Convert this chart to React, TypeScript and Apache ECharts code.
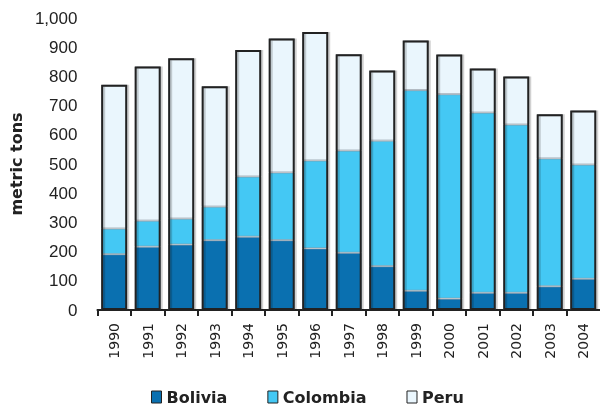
import React, { useEffect, useRef } from "react";
import * as echarts from "echarts";

const years = ["1990","1991","1992","1993","1994","1995","1996","1997","1998","1999","2000","2001","2002","2003","2004"];
const bolivia = [191, 217, 224, 239, 251, 239, 211, 196, 150, 66, 39, 59, 59, 81, 107];
const colombia = [88, 89, 89, 115, 206, 232, 301, 350, 430, 687, 700, 617, 576, 438, 391];
const peru = [492, 528, 549, 412, 433, 459, 440, 330, 240, 170, 136, 151, 165, 151, 185];
const yTicks = { min: 0, max: 1000, interval: 100 };

export default function App() {
  const ref = useRef<HTMLDivElement>(null);
  useEffect(() => {
    if (!ref.current) return;
    const chart = echarts.init(ref.current, null, { renderer: "svg" });
    const totals = years.map((_, i) => bolivia[i] + colombia[i] + peru[i]);
    const segBorder = { borderColor: "rgba(140,150,160,0.7)", borderWidth: 1 };
    chart.setOption({
      animation: false,
      grid: { left: 87, right: 0, top: 18, bottom: 98 },
      legend: {
        data: ["Bolivia", "Colombia", "Peru"],
        left: 151,
        top: 389,
        padding: 0,
        itemWidth: 10,
        itemHeight: 12,
        itemGap: 40,
        icon: "rect",
        itemStyle: { borderColor: "#222", borderWidth: 1 },
        textStyle: { fontFamily: "DejaVu Sans", fontWeight: "bold", fontSize: 16, color: "#222" },
      },
      xAxis: {
        type: "category",
        data: years,
        boundaryGap: true,
        axisLine: { lineStyle: { color: "#222", width: 2 } },
        axisTick: { show: true, length: 6, lineStyle: { color: "#222", width: 2 } },
        axisLabel: { rotate: 90, margin: 13, fontFamily: "DejaVu Sans", fontSize: 14, color: "#222" },
      },
      yAxis: {
        type: "value",
        min: yTicks.min,
        max: yTicks.max,
        interval: yTicks.interval,
        name: "metric tons",
        nameLocation: "middle",
        nameGap: 60,
        nameTextStyle: { fontFamily: "DejaVu Sans", fontWeight: "bold", fontSize: 16, color: "#222" },
        axisLine: { show: false },
        axisTick: { show: false },
        axisLabel: {
          margin: 20,
          fontFamily: "Liberation Sans",
          fontSize: 17,
          color: "#222",
          formatter: (v: number) => v.toLocaleString("en-US"),
        },
        splitLine: {
          lineStyle: { color: "#2a2a2a", width: 2, shadowColor: "rgba(0,0,0,0.25)", shadowOffsetY: 2, shadowBlur: 0 },
        },
      },
      series: [
        { name: "Bolivia", type: "bar", stack: "t", data: bolivia, barWidth: 26, barGap: "-100%", itemStyle: { color: "#0a70b0", ...segBorder } },
        { name: "Colombia", type: "bar", stack: "t", data: colombia, barWidth: 26, barGap: "-100%", itemStyle: { color: "#44c8f4", ...segBorder } },
        { name: "Peru", type: "bar", stack: "t", data: peru, barWidth: 26, barGap: "-100%", itemStyle: { color: "#eaf6fd", ...segBorder } },
        {
          name: "outline",
          type: "bar",
          data: totals,
          barWidth: 26,
          barGap: "-100%",
          silent: true,
          z: 3,
          itemStyle: {
            color: "rgba(0,0,0,0)",
            borderColor: "#222",
            borderWidth: 2,
            shadowColor: "rgba(0,0,0,0.18)",
            shadowOffsetX: 2,
            shadowBlur: 0,
          },
        },
      ],
    });
    return () => chart.dispose();
  }, []);
  return <div ref={ref} style={{ position: "fixed", left: 0, top: 0, width: 600, height: 408 }} />;
}
